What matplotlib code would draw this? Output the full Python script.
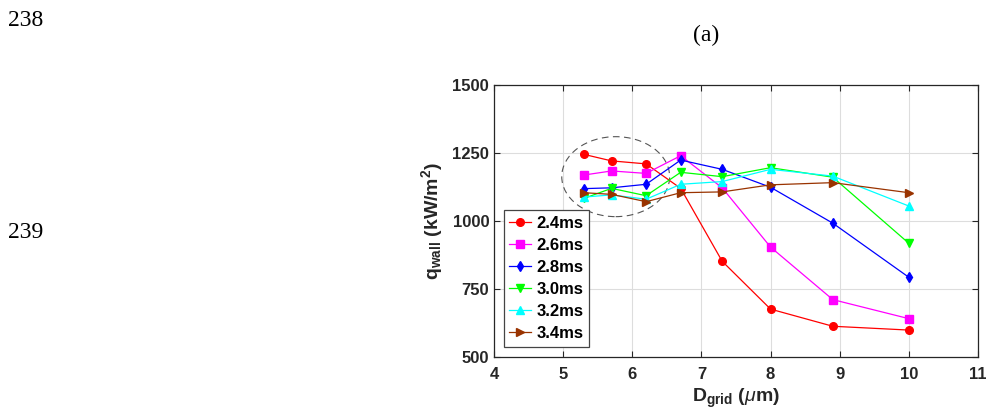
import matplotlib
matplotlib.use("Agg")
import matplotlib.pyplot as plt
from matplotlib.patches import Ellipse

plt.rcParams["font.family"] = ["Liberation Sans", "DejaVu Sans"]
plt.rcParams["mathtext.fontset"] = "custom"
plt.rcParams["mathtext.rm"] = "Liberation Sans:bold"
plt.rcParams["mathtext.bf"] = "Liberation Sans:bold"
plt.rcParams["mathtext.it"] = "Liberation Sans:italic"

# Datos
d_grid = [5.3, 5.7, 6.2, 6.7, 7.3, 8.0, 8.9, 10.0]
q_24 = [1245, 1221, 1210, 1120, 852, 676, 613, 599]
q_26 = [1169, 1184, 1175, 1240, 1122, 904, 711, 641]
q_28 = [1119, 1122, 1135, 1224, 1190, 1124, 992, 793]
q_30 = [1083, 1120, 1093, 1179, 1163, 1196, 1161, 918]
q_32 = [1088, 1096, 1080, 1135, 1145, 1190, 1165, 1055]
q_34 = [1104, 1098, 1071, 1104, 1107, 1133, 1141, 1104]
labels = ["2.4ms", "2.6ms", "2.8ms", "3.0ms", "3.2ms", "3.4ms"]

series = [q_24, q_26, q_28, q_30, q_32, q_34]
colors = ["#ff0000", "#ff00ff", "#0000ff", "#00ff00", "#00ffff", "#993300"]
markers = ["o", "s", "d", "v", "^", ">"]

fig = plt.figure(figsize=(9.87, 4.18), dpi=100)
ax = fig.add_axes([494 / 987, 1 - 357 / 418, 484 / 987, 272 / 418])

for y, c, m, lab in zip(series, colors, markers, labels):
    ax.plot(d_grid, y, color=c, marker=m, markersize=5.5, linewidth=0.9, label=lab)

ax.add_patch(Ellipse((5.76, 1163), 1.56, 294, fill=False, edgecolor="#555555",
                     linestyle=(0, (6, 4)), linewidth=0.8))

ax.set_xlim(4, 11)
ax.set_ylim(500, 1500)
ax.set_xticks(range(4, 12))
ax.set_yticks([500, 750, 1000, 1250, 1500])
ax.grid(True, color="#dddddd", linewidth=0.8)
ax.set_axisbelow(True)
ax.tick_params(direction="in", top=True, right=True, length=4, labelsize=12, colors="#262626")
ax.tick_params(axis="x", pad=7)
for lab in ax.get_xticklabels() + ax.get_yticklabels():
    lab.set_fontweight("bold")
for s in ax.spines.values():
    s.set_color("#262626")
    s.set_linewidth(0.9)

ax.set_xlabel(r"$\mathrm{D_{grid}}$ $\mathrm{(}\mathit{\mu}\mathrm{m)}$", fontsize=14, labelpad=4, color="#262626")
ax.set_ylabel(r"$\mathrm{q_{wall}}$ $\mathrm{(kW/m^{2})}$", fontsize=14, labelpad=5, color="#262626")

leg = ax.legend(loc="lower left", bbox_to_anchor=(0.013, 0.025), prop={"weight": "bold", "size": 12},
                handlelength=1.3, handletextpad=0.3, borderpad=0.35, labelspacing=0.42,
                borderaxespad=0.2, fancybox=False, framealpha=1, edgecolor="#444444")
leg.get_frame().set_linewidth(0.9)

fig.text(8 / 987, 1 - 21 / 418, "238", fontsize=17, family="Liberation Serif", va="center", ha="left")
fig.text(8 / 987, 1 - 232 / 418, "239", fontsize=17, family="Liberation Serif", va="center", ha="left")
fig.text(706 / 987, 1 - 35 / 418, "(a)", fontsize=17, family="Liberation Serif", va="center", ha="center")

fig.savefig("out.png", dpi=100)
